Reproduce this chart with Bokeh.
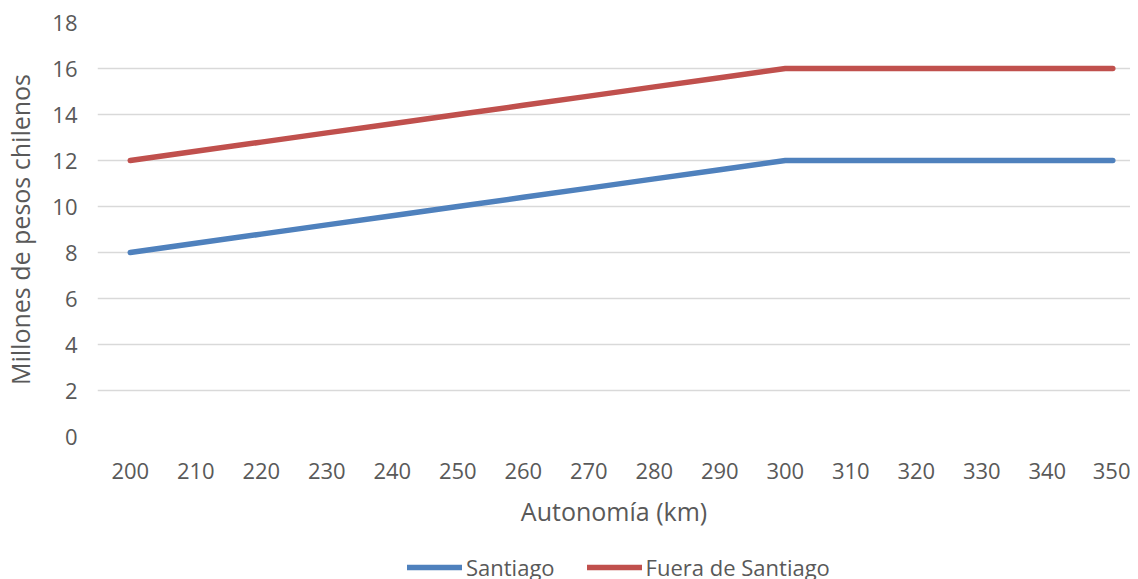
from bokeh.plotting import figure
from bokeh.layouts import column
from bokeh.models import Range1d, FixedTicker, Legend, LegendItem
from bokeh.embed import file_html
from bokeh.resources import INLINE

autonomia = [200, 210, 220, 230, 240, 250, 260, 270, 280, 290, 300, 310, 320, 330, 340, 350]
santiago = [8.0, 8.4, 8.8, 9.2, 9.6, 10.0, 10.4, 10.8, 11.2, 11.6, 12, 12, 12, 12, 12, 12]
fuera = [12.0, 12.4, 12.8, 13.2, 13.6, 14.0, 14.4, 14.8, 15.2, 15.6, 16, 16, 16, 16, 16, 16]
y_ticks = [0, 2, 4, 6, 8, 10, 12, 14, 16, 18]
series_names = ["Santiago", "Fuera de Santiago"]
series_colors = ["#4F81BD", "#C0504D"]
series_values = [santiago, fuera]

FONT = "Open Sans"
TXT = "#595959"

p = figure(width=1130, height=540, output_backend="svg", toolbar_location=None,
           x_range=Range1d(195, 352.7), y_range=Range1d(0, 18),
           min_border_left=91, min_border_right=0, min_border_top=22, min_border_bottom=104)
p.outline_line_color = None
p.background_fill_color = "white"
p.border_fill_color = "white"

for vals, col in zip(series_values, series_colors):
    p.line(autonomia, vals, line_color=col, line_width=5.5, line_cap="round", line_join="round")

p.xaxis.ticker = FixedTicker(ticks=autonomia)
p.yaxis.ticker = FixedTicker(ticks=y_ticks)
p.xgrid.grid_line_color = None
p.ygrid.grid_line_color = "#D9D9D9"
p.ygrid.grid_line_width = 1.3

for ax in (p.xaxis, p.yaxis):
    ax.axis_line_color = None
    ax.major_tick_line_color = None
    ax.minor_tick_line_color = None
    ax.major_label_text_font = FONT
    ax.major_label_text_font_size = "22px"
    ax.major_label_text_color = TXT
    ax.axis_label_text_font = FONT
    ax.axis_label_text_font_size = "25px"
    ax.axis_label_text_color = TXT
    ax.axis_label_text_font_style = "normal"

p.xaxis.axis_label = "Autonomía (km)"
p.yaxis.axis_label = "Millones de pesos chilenos"
p.yaxis.major_label_standoff = 14
p.xaxis.major_label_standoff = 20
p.xaxis.axis_label_standoff = 12
p.yaxis.axis_label_standoff = 12

# legend strip below the chart (series drawn out of view; only legend shows)
p2 = figure(width=1130, height=60, output_backend="svg", toolbar_location=None,
            x_range=Range1d(0, 1), y_range=Range1d(0, 1),
            x_axis_type=None, y_axis_type=None,
            min_border_left=0, min_border_right=0, min_border_top=0, min_border_bottom=0)
p2.outline_line_color = None
p2.xgrid.grid_line_color = None
p2.ygrid.grid_line_color = None
items = []
for name, vals, col in zip(series_names, series_values, series_colors):
    r = p2.line(autonomia, vals, line_color=col, line_width=5.5, line_cap="round")
    items.append(LegendItem(label=name, renderers=[r]))

legend = Legend(items=items, orientation="horizontal", location=(310, 18),
                label_text_font=FONT, label_text_font_size="22px", label_text_color=TXT,
                label_height=20, glyph_width=55, glyph_height=20, label_standoff=4, spacing=32,
                border_line_color=None, background_fill_alpha=0, margin=0, padding=0)
p2.add_layout(legend, "center")

layout = column(p, p2, spacing=0)
open("out.html", "w").write(file_html(layout, INLINE))
